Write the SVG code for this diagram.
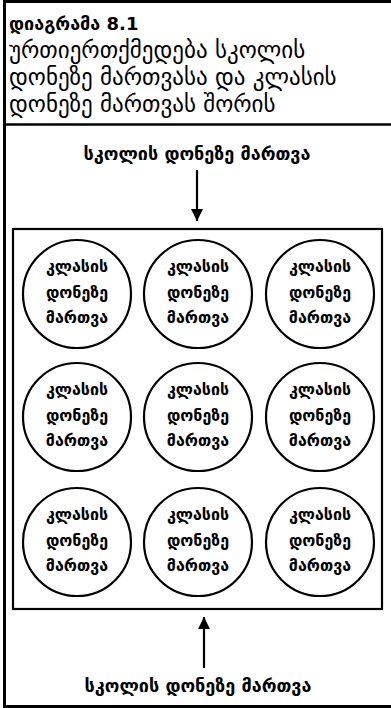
<svg xmlns="http://www.w3.org/2000/svg" width="391" height="708" viewBox="0 0 391 708">
<defs>
<style>
.t{font-family:"DejaVu Sans","Noto Sans",sans-serif;fill:#000}
.h{font-size:18px;font-weight:bold}
.b{font-size:23px}
.l{font-size:18px;font-weight:bold;text-anchor:middle}
.c{font-size:16px;font-weight:bold;text-anchor:middle}
.cir{fill:none;stroke:#000;stroke-width:2.2}
.ln{fill:none;stroke:#000}
</style>
<marker id="ah" viewBox="0 0 12 16" refX="12" refY="6" markerWidth="12" markerHeight="16" markerUnits="userSpaceOnUse" orient="auto">
<path d="M0,0 L12,6 L0,12 Z" fill="#000"/>
</marker>
</defs>
<rect width="391" height="708" fill="#fff"/>
<g id="frame">
<path class="ln" d="M391,1.5 H4.5 V706.5 H391" stroke-width="3"/>
<line class="ln" x1="4" y1="124.5" x2="391" y2="124.5" stroke-width="2.5"/>
</g>
<g id="title">
<text class="t h" x="9" y="30">დიაგრამა 8.1</text>
<text class="t b" x="9" y="58">ურთიერთქმედება სკოლის</text>
<text class="t b" x="9" y="85">დონეზე მართვასა და კლასის</text>
<text class="t b" x="9" y="112">დონეზე მართვას შორის</text>
</g>
<g id="top-label"><text class="t l" x="197" y="160">სკოლის დონეზე მართვა</text></g>
<g id="bottom-label"><text class="t l" x="198" y="692">სკოლის დონეზე მართვა</text></g>
<g id="inner-box"><rect class="ln" x="13" y="229" width="369" height="380" stroke-width="2.2"/></g>
<g id="connectors">
<line class="ln" x1="197" y1="170" x2="197" y2="221" stroke-width="2.2" marker-end="url(#ah)"/>
<line class="ln" x1="204" y1="668" x2="204" y2="617" stroke-width="2.2" marker-end="url(#ah)"/>
</g>
<g id="n11"><circle class="cir" cx="77" cy="294" r="54"/><text class="t c" x="77" y="272">კლასის</text><text class="t c" x="77" y="298">დონეზე</text><text class="t c" x="77" y="323">მართვა</text></g>
<g id="n12"><circle class="cir" cx="198" cy="294" r="54"/><text class="t c" x="198" y="272">კლასის</text><text class="t c" x="198" y="298">დონეზე</text><text class="t c" x="198" y="323">მართვა</text></g>
<g id="n13"><circle class="cir" cx="320" cy="294" r="54"/><text class="t c" x="320" y="272">კლასის</text><text class="t c" x="320" y="298">დონეზე</text><text class="t c" x="320" y="323">მართვა</text></g>
<g id="n21"><circle class="cir" cx="77" cy="417" r="54"/><text class="t c" x="77" y="395">კლასის</text><text class="t c" x="77" y="421">დონეზე</text><text class="t c" x="77" y="446">მართვა</text></g>
<g id="n22"><circle class="cir" cx="198" cy="417" r="54"/><text class="t c" x="198" y="395">კლასის</text><text class="t c" x="198" y="421">დონეზე</text><text class="t c" x="198" y="446">მართვა</text></g>
<g id="n23"><circle class="cir" cx="320" cy="417" r="54"/><text class="t c" x="320" y="395">კლასის</text><text class="t c" x="320" y="421">დონეზე</text><text class="t c" x="320" y="446">მართვა</text></g>
<g id="n31"><circle class="cir" cx="77" cy="542" r="54"/><text class="t c" x="77" y="520">კლასის</text><text class="t c" x="77" y="546">დონეზე</text><text class="t c" x="77" y="571">მართვა</text></g>
<g id="n32"><circle class="cir" cx="198" cy="542" r="54"/><text class="t c" x="198" y="520">კლასის</text><text class="t c" x="198" y="546">დონეზე</text><text class="t c" x="198" y="571">მართვა</text></g>
<g id="n33"><circle class="cir" cx="320" cy="542" r="54"/><text class="t c" x="320" y="520">კლასის</text><text class="t c" x="320" y="546">დონეზე</text><text class="t c" x="320" y="571">მართვა</text></g>
</svg>
